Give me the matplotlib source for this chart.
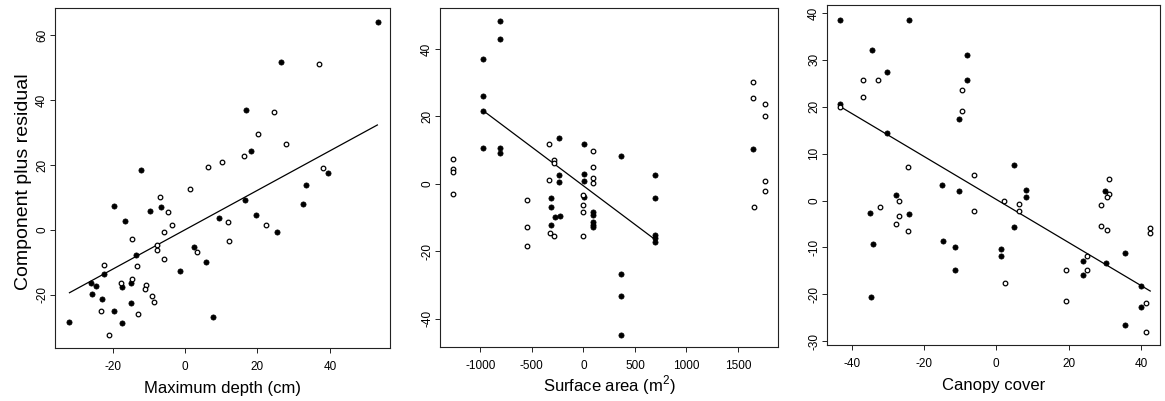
import matplotlib
matplotlib.use("Agg")
import matplotlib.pyplot as plt

# Panel 1: maximum depth (cm)
depth_filled_x = [53.2, 26.5, 16.7, 18.3, -12.1, 39.4, 33.3, 16.5, 32.5, -6.5, -19.6, -9.6,
                  -16.6, 9.5, 19.5, 25.5, 2.4, -13.4, 5.7, -1.5, -22.4, -26.0, -24.5, -17.4,
                  -14.9, -25.6, -23.0, -14.8, -19.5, 7.6, -31.9, -17.3]
depth_filled_y = [64.0, 51.7, 36.9, 24.4, 18.3, 17.6, 13.7, 9.2, 7.9, 7.0, 7.3, 5.8,
                  2.8, 3.6, 4.5, -0.5, -5.3, -7.6, -9.7, -12.6, -13.6, -16.3, -17.2, -17.4,
                  -16.3, -19.7, -21.2, -22.4, -24.9, -26.8, -28.4, -28.7]
depth_open_x = [37.0, 24.6, 20.1, 27.8, 16.2, 10.3, 6.3, 38.2, 1.5, -6.8, -4.6, 12.0,
                22.3, -3.5, -5.8, -14.6, 12.2, 3.4, -7.6, -7.6, -5.7, -22.5, -13.2, -17.6,
                -14.6, -10.8, -11.0, -9.0, -8.6, -23.1, -13.1, -21.0]
depth_open_y = [51.0, 36.3, 29.5, 26.4, 22.9, 20.8, 19.5, 19.0, 12.5, 10.0, 5.4, 2.4,
                1.6, 1.6, -0.5, -2.8, -3.3, -6.8, -4.6, -6.2, -9.0, -10.8, -11.0, -16.3,
                -15.1, -16.9, -18.1, -20.3, -22.2, -24.9, -25.8, -32.3]
depth_fit_x = [-31.9, 53.1]
depth_fit_y = [-19.3, 32.3]

# Panel 2: surface area (m^2)
area_filled_x = [-971, -971, -971, -971, -809, -809, -809, -809,
                 -317, -317, -317, -239, -239, -239, -275, -226,
                 10, 10, 10, 10, 91, 91, 91, 91, 91,
                 366, 366, 366, 366, 699, 699, 699, 699, 699, 1650]
area_filled_y = [37.1, 26.0, 21.7, 10.6, 48.3, 43.0, 10.6, 9.1,
                 -4.2, -7.0, -12.2, 13.7, 2.7, 0.7, -9.7, -9.5,
                 11.7, 3.0, 0.9, -3.9, -8.2, -9.2, -11.2, -12.2, -12.9,
                 8.3, -26.8, -33.2, -44.8, 2.7, -4.2, -15.3, -16.1, -17.1, 10.3]
area_open_x = [-1268, -1268, -1268, -1268, -544, -544, -544, -330, -330, -323,
               -284, -284, -284, -6, -6, -6, -6, 97, 97, 97, 97,
               1650, 1650, 1657, 1764, 1764, 1764, 1764]
area_open_y = [7.3, 4.4, 3.4, -3.1, -4.7, -12.7, -18.5, 11.9, 1.2, -14.6,
               7.1, 6.3, -15.4, -3.3, -6.2, -8.2, -15.4, 9.7, 5.1, 1.7, 0.2,
               30.1, 25.6, -6.9, 23.6, 20.0, 1.0, -2.0]
area_fit_x = [-971, 699]
area_fit_y = [21.7, -16.6]

# Panel 3: canopy cover
canopy_filled_x = [-43.1, -24.2, -34.5, -30.2, -43.1, -30.2, -8.2, -8.2, -10.3, 4.9, -14.9,
                   -10.2, 8.2, 8.2, 30.2, -27.7, -34.8, -24.0, -34.2, -34.7, 4.9, -14.7,
                   -11.4, -11.4, 1.3, 1.3, 35.7, 24.1, 30.3, 24.1, 40.1, 40.1, 35.7]
canopy_filled_y = [38.5, 38.4, 32.0, 27.3, 20.6, 14.5, 31.1, 25.7, 17.4, 7.5, 3.4,
                   2.0, 2.3, 0.7, 2.1, 1.2, -2.6, -2.9, -9.2, -20.5, -5.6, -8.6,
                   -9.9, -14.8, -10.3, -11.8, -11.1, -13.0, -13.4, -15.8, -18.2, -22.6, -26.5]
canopy_open_x = [-36.8, -32.7, -36.8, -43.1, -9.6, -9.6, -24.4, -6.1, 31.3, 31.3, 30.6,
                 -27.0, -32.1, -27.0, -27.6, -24.3, -6.1, 2.2, 6.2, 6.2, 2.4, 29.0,
                 29.0, 30.6, 42.6, 42.6, 25.1, 25.2, 19.4, 19.4, 41.5, 41.5]
canopy_open_y = [25.6, 25.6, 22.0, 20.0, 23.5, 19.0, 7.1, 5.5, 4.6, 1.4, 0.7,
                 -0.2, -1.3, -3.2, -5.0, -6.5, -2.3, -0.2, -0.8, -2.3, -17.6, -0.9,
                 -5.5, -6.2, -5.9, -7.0, -11.8, -14.8, -14.8, -21.5, -21.9, -28.1]
canopy_fit_x = [-43.1, 42.6]
canopy_fit_y = [20.0, -19.3]

depth_xticks = [-20, 0, 20, 40]
depth_yticks = [-20, 0, 20, 40, 60]
area_xticks = [-1000, -500, 0, 500, 1000, 1500]
area_yticks = [-40, -20, 0, 20, 40]
canopy_xticks = [-40, -20, 0, 20, 40]
canopy_yticks = [-30, -20, -10, 0, 10, 20, 30, 40]


def draw_panel(ax, fx, fy, ox, oy, lx, ly, xticks, yticks, xlim, ylim, xlabel):
    # filled and open points, then the fitted line
    ax.scatter(fx, fy, s=14, color="black", edgecolors="black", linewidths=0.5, zorder=3)
    ax.scatter(ox, oy, s=11, facecolors="white", edgecolors="black", linewidths=0.9, zorder=3)
    ax.plot(lx, ly, color="black", linewidth=0.9, zorder=2)
    ax.set_xlim(xlim)
    ax.set_ylim(ylim)
    ax.set_xticks(xticks)
    ax.set_yticks(yticks)
    ax.tick_params(direction="out", length=3.5, width=0.7, labelsize=8.5, color="#222222")
    ax.tick_params(axis="x", pad=6)
    ax.tick_params(axis="y", pad=1.5, labelrotation=90)
    for lab in ax.get_yticklabels():
        lab.set_va("center")
    for sp in ax.spines.values():
        sp.set_linewidth(0.8)
        sp.set_color("#222222")
    ax.set_xlabel(xlabel, fontsize=12)
    ax.xaxis.label.set_va("baseline")
    ax.xaxis.set_label_coords(0.5, -0.132)


def main():
    plt.rcParams["font.family"] = ["Liberation Sans", "DejaVu Sans"]
    plt.rcParams["axes.unicode_minus"] = False
    plt.rcParams["mathtext.fontset"] = "custom"
    plt.rcParams["mathtext.rm"] = "Liberation Sans"

    fig = plt.figure(figsize=(11.65, 4.01), dpi=100)
    ax1 = fig.add_axes([0.0472, 0.1322, 0.2876, 0.848])
    ax2 = fig.add_axes([0.3777, 0.1347, 0.2901, 0.8454])
    ax3 = fig.add_axes([0.7099, 0.1397, 0.2858, 0.848])

    draw_panel(ax1, depth_filled_x, depth_filled_y, depth_open_x, depth_open_y,
               depth_fit_x, depth_fit_y, depth_xticks, depth_yticks,
               (-35.9, 56.6), (-36.3, 68.3), "Maximum depth (cm)")
    draw_panel(ax2, area_filled_x, area_filled_y, area_open_x, area_open_y,
               area_fit_x, area_fit_y, area_xticks, area_yticks,
               (-1391, 1888), (-48.4, 52.2), r"Surface area (m$^\mathregular{2}$)")
    draw_panel(ax3, canopy_filled_x, canopy_filled_y, canopy_open_x, canopy_open_y,
               canopy_fit_x, canopy_fit_y, canopy_xticks, canopy_yticks,
               (-46.8, 45.3), (-30.8, 41.7), "Canopy cover")

    # y label only on the first panel
    ax1.set_ylabel("Component plus residual", fontsize=14)
    ax1.yaxis.set_label_coords(-0.07, 0.488)

    fig.savefig("out.png", dpi=100)


if __name__ == "__main__":
    main()
